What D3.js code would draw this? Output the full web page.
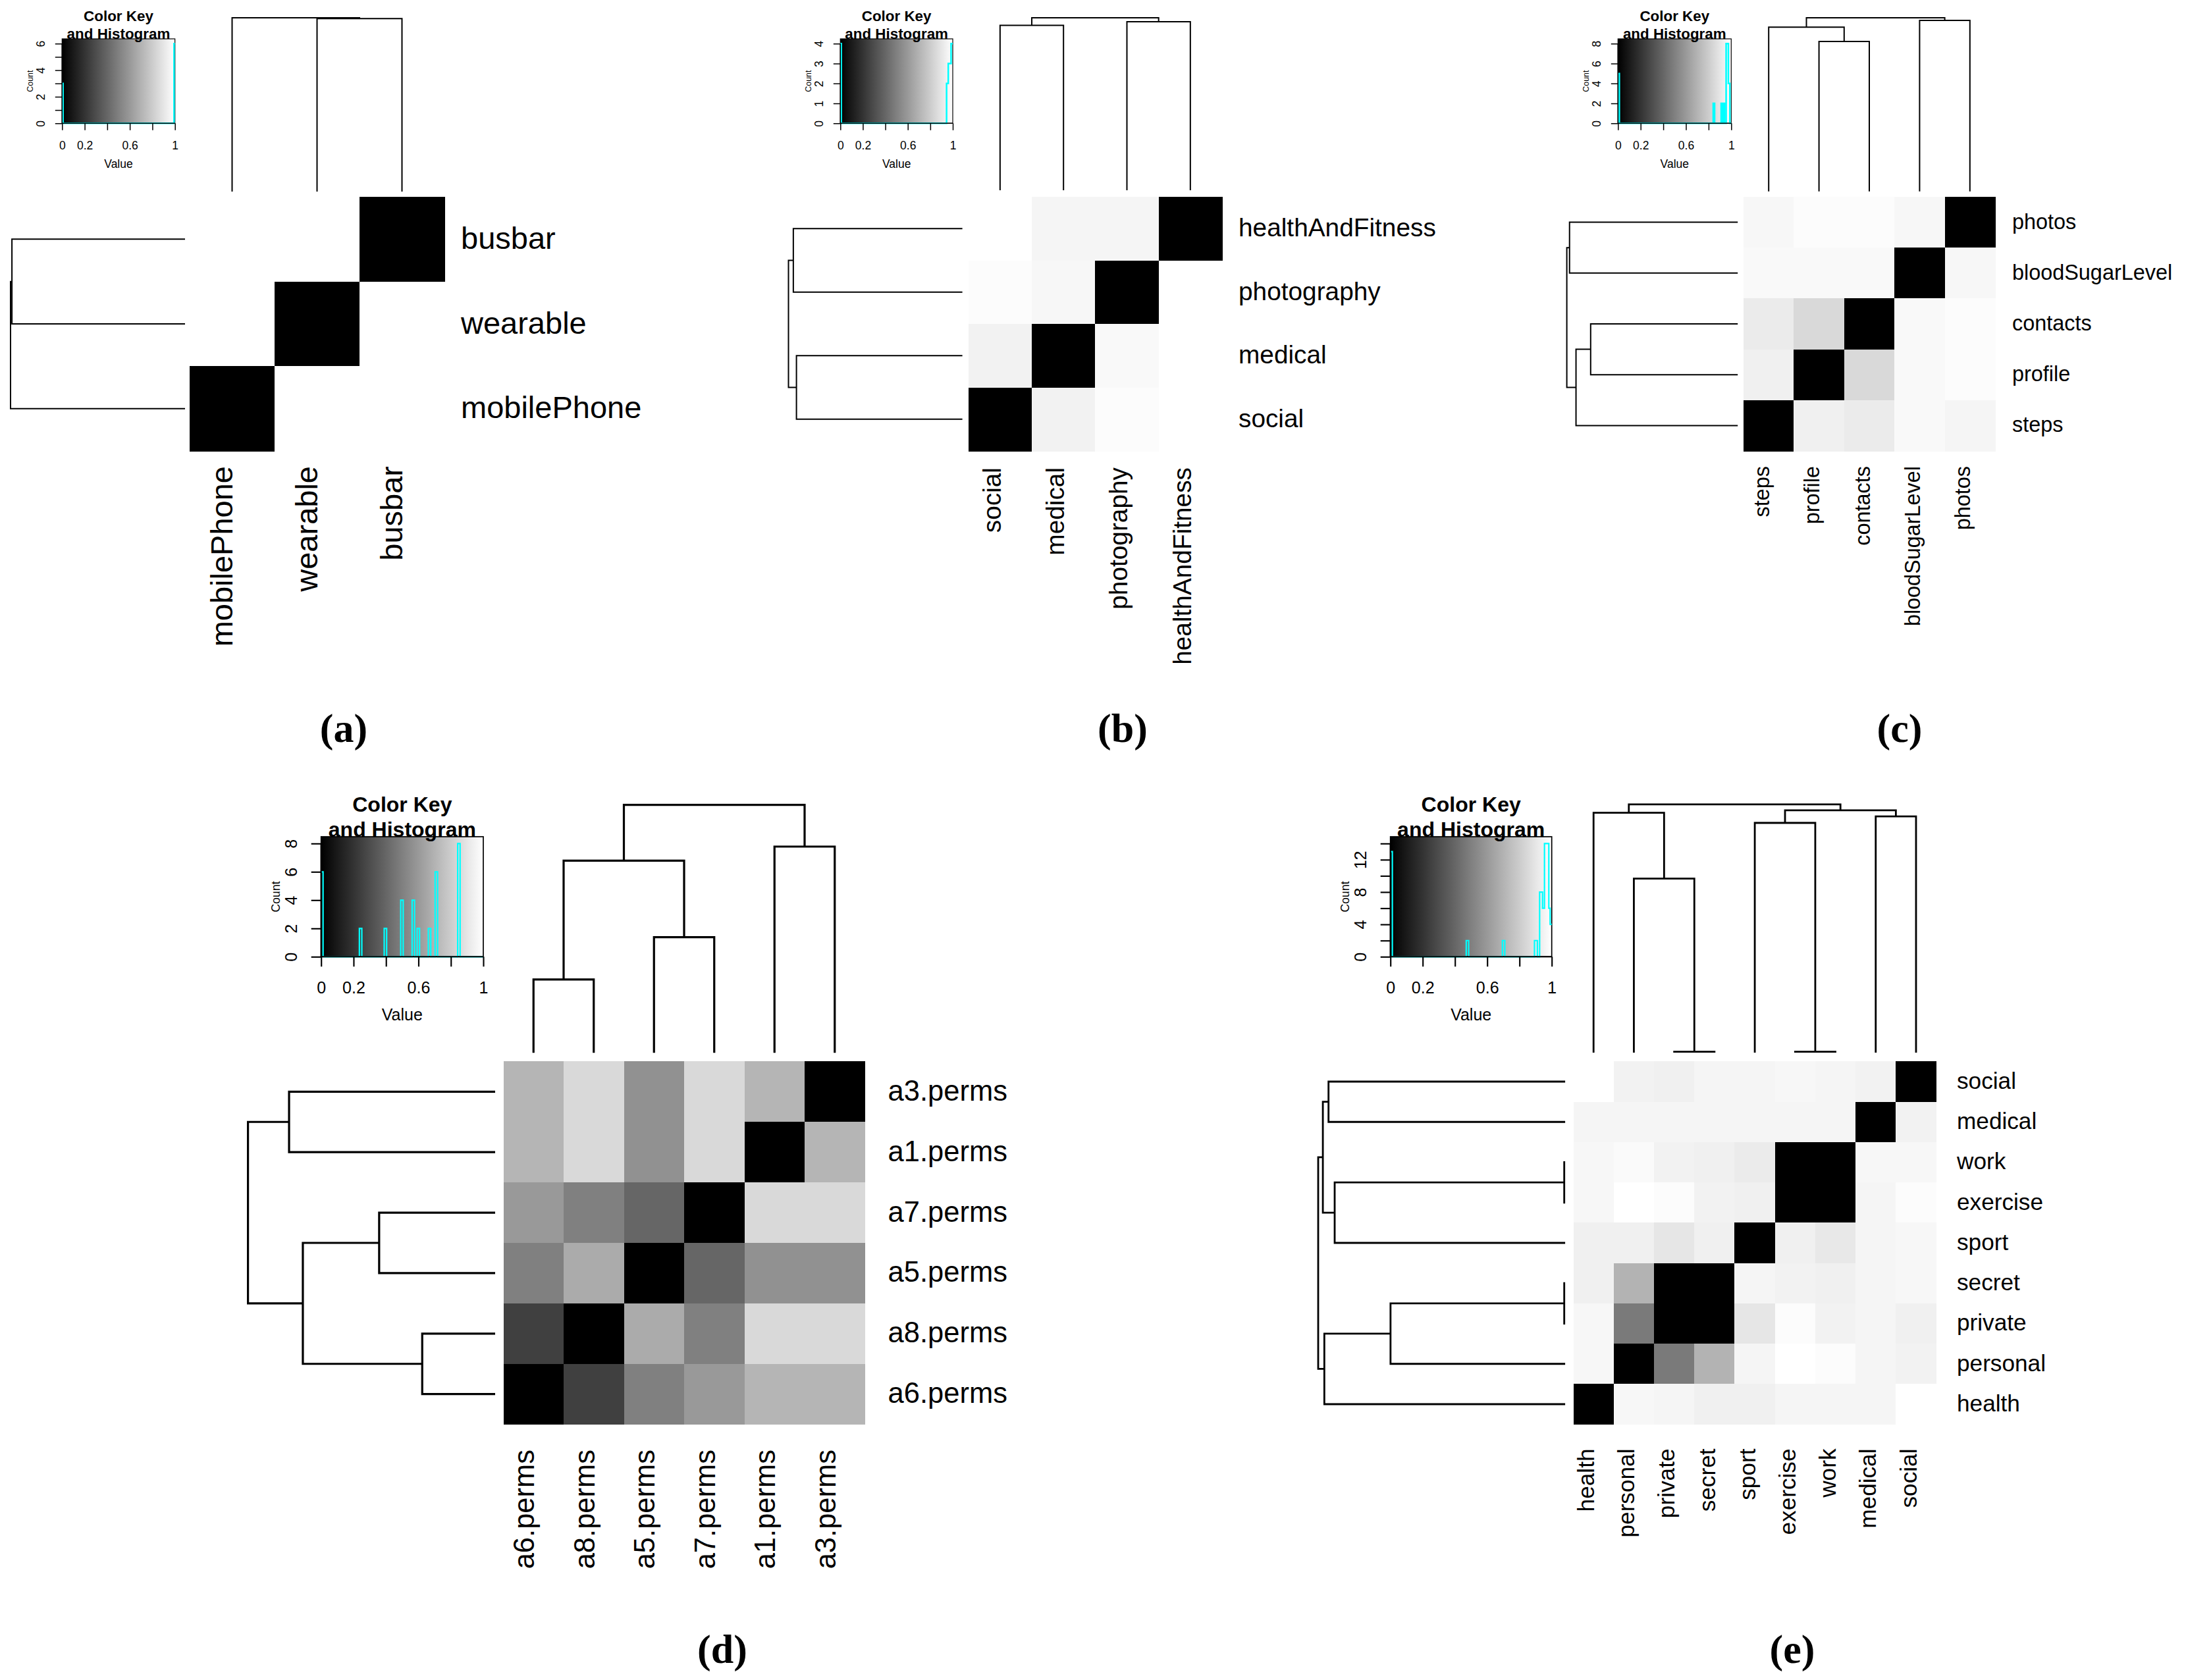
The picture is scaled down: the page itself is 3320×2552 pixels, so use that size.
<!DOCTYPE html>
<html><head><meta charset="utf-8">
<script src="https://cdn.jsdelivr.net/npm/d3@7"></script>
<style>html,body{margin:0;padding:0;background:#fff;} svg{display:block;font-family:"Liberation Sans",Arial,sans-serif;}</style>
</head><body>
<svg id="chart" width="3320" height="2552"></svg>
<script>
// ================= DATA =================
// (a)
const aCols = ["mobilePhone","wearable","busbar"];
const aRows = ["busbar","wearable","mobilePhone"];
const aValues = [[1,1,0],[1,0,1],[0,1,1]];
const aColTree = {h:1.0, c:["mobilePhone",{h:0.995, c:["wearable","busbar"]}]};
const aRowTree = {h:1.0, c:[{h:0.992, c:["busbar","wearable"]},"mobilePhone"]};
const aHist = [[0,0.008,3],[0.992,1,6]];
const aYTicks = [0,1,2,3,4,5,6];
const aYLabels = [0,2,4,6];

// (b)
const bCols = ["social","medical","photography","healthAndFitness"];
const bRows = ["healthAndFitness","photography","medical","social"];
const bValues = [
  [1.00,0.96,0.96,0],
  [0.99,0.97,0,1.00],
  [0.95,0,0.975,1.00],
  [0,0.95,0.99,1.00]];
const bColTree = {h:1, c:[{h:0.956, c:["social","medical"]},{h:0.977, c:["photography","healthAndFitness"]}]};
const bRowTree = {h:1, c:[{h:0.972, c:["healthAndFitness","photography"]},{h:0.954, c:["medical","social"]}]};
const bHist = [[0,0.008,4],[0.945,0.96,2],[0.96,0.985,3],[0.985,1,4]];
const bYTicks = [0,1,2,3,4];
const bYLabels = [0,1,2,3,4];

// (c)
const cCols = ["steps","profile","contacts","bloodSugarLevel","photos"];
const cRows = ["photos","bloodSugarLevel","contacts","profile","steps"];
const cValues = [
  [0.97,0.99,0.99,0.97,0],
  [0.975,0.975,0.975,0,0.97],
  [0.92,0.85,0,0.975,0.99],
  [0.94,0,0.85,0.975,0.99],
  [0,0.94,0.92,0.975,0.96]];
const cColTree = {h:1, c:[{h:0.946, c:["steps",{h:0.863, c:["profile","contacts"]}]},{h:0.985, c:["bloodSugarLevel","photos"]}]};
const cRowTree = {h:1, c:[{h:0.984, c:["photos","bloodSugarLevel"]},{h:0.946, c:[{h:0.860, c:["contacts","profile"]},"steps"]}]};
const cHist = [[0,0.012,5],[0.841,0.853,2],[0.911,0.922,2],[0.930,0.940,2],[0.955,0.975,8],[0.975,0.988,4]];
const cYTicks = [0,2,4,6,8];
const cYLabels = [0,2,4,6,8];

// (d)
const dCols = ["a6.perms","a8.perms","a5.perms","a7.perms","a1.perms","a3.perms"];
const dRows = ["a3.perms","a1.perms","a7.perms","a5.perms","a8.perms","a6.perms"];
const dValues = [
  [0.71,0.85,0.57,0.85,0.71,0],
  [0.71,0.85,0.57,0.85,0,0.71],
  [0.60,0.50,0.40,0,0.85,0.85],
  [0.50,0.67,0,0.40,0.57,0.57],
  [0.25,0,0.67,0.50,0.85,0.85],
  [0,0.25,0.50,0.60,0.71,0.71]];
const dColTree = {h:1, c:[{h:0.774, c:[{h:0.293, c:["a6.perms","a8.perms"]},{h:0.464, c:["a5.perms","a7.perms"]}]},{h:0.831, c:["a1.perms","a3.perms"]}]};
const dRowTree = {h:1, c:[{h:0.833, c:["a3.perms","a1.perms"]},{h:0.777, c:[{h:0.467, c:["a7.perms","a5.perms"]},{h:0.292, c:["a8.perms","a6.perms"]}]}]};
const dHist = [[0,0.012,6],[0.236,0.251,2],[0.389,0.404,2],[0.491,0.506,4],[0.561,0.576,4],[0.592,0.607,2],[0.661,0.676,2],[0.703,0.718,6],[0.842,0.857,8]];
const dYTicks = [0,2,4,6,8];
const dYLabels = [0,2,4,6,8];

// (e)
const eCols = ["health","personal","private","secret","sport","exercise","work","medical","social"];
const eRows = ["social","medical","work","exercise","sport","secret","private","personal","health"];
const eValues = [
  [1.00,0.95,0.94,0.96,0.96,0.97,0.96,0.95,0],
  [0.96,0.96,0.96,0.96,0.96,0.96,0.96,0,0.95],
  [0.97,0.98,0.95,0.94,0.92,0,0,0.97,0.97],
  [0.97,1.00,0.99,0.95,0.94,0,0,0.96,0.99],
  [0.94,0.94,0.90,0.94,0,0.94,0.91,0.96,0.97],
  [0.94,0.70,0,0,0.96,0.95,0.94,0.96,0.97],
  [0.97,0.48,0,0,0.90,0.99,0.95,0.96,0.94],
  [0.97,0,0.48,0.70,0.96,1.00,0.99,0.96,0.95],
  [0,0.97,0.96,0.94,0.94,0.96,0.96,0.96,1.00]];
const eColTree = {h:1, c:[{h:0.966, c:["health",{h:0.700, c:["personal",{h:0, c:["private","secret"]}]}]},
                          {h:0.976, c:[{h:0.925, c:["sport",{h:0, c:["exercise","work"]}]},{h:0.951, c:["medical","social"]}]}]};
const eRowTree = {h:1, c:[{h:0.981, c:[{h:0.958, c:["social","medical"]},{h:0.933, c:[{h:0, c:["work","exercise"]},"sport"]}]},
                          {h:0.975, c:[{h:0.706, c:[{h:0, c:["secret","private"]},"personal"]},"health"]}]};
const eHist = [[0,0.012,13],[0.47,0.485,2],[0.694,0.709,2],[0.893,0.911,2],[0.925,0.943,8],[0.943,0.955,6],[0.955,0.982,14],[0.982,0.99,6],[0.99,1.0,4]];
const eYTicks = [0,2,4,6,8,10,12,14];
const eYLabels = [0,4,8,12];

const keyXTicks = [0,0.2,0.4,0.6,0.8,1];
const keyXLabels = [0,0.2,0.6,1];

// ================= LAYOUT =================
const panels = [
 {name:"(a)", cols:aCols, rows:aRows, values:aValues, colTree:aColTree, rowTree:aRowTree, hist:aHist, yTicks:aYTicks, yLabels:aYLabels,
  L:{s:1, lw:2, hlw:2.5, hx:[288,675], hy:[299,685], cd:[290,27], rd:[280,16], rowLabelX:700, colLabelY:708, font:47, key:[94.3,265.7,59,187.3], cap:[522,1127]}},
 {name:"(b)", cols:bCols, rows:bRows, values:bValues, colTree:bColTree, rowTree:bRowTree, hist:bHist, yTicks:bYTicks, yLabels:bYLabels,
  L:{s:1, lw:2, hlw:2.5, hx:[1470.7,1856], hy:[299,685], cd:[288,27], rd:[1460.6,1197.5], rowLabelX:1881, colLabelY:710, font:38.8, key:[1276.3,1447,59,187.3], cap:[1705,1127]}},
 {name:"(c)", cols:cCols, rows:cRows, values:cValues, colTree:cColTree, rowTree:cRowTree, hist:cHist, yTicks:cYTicks, yLabels:cYLabels,
  L:{s:1, lw:2, hlw:2.5, hx:[2648,3030], hy:[299,685], cd:[289.7,27], rd:[2638.2,2379.6], rowLabelX:3056, colLabelY:708, font:32.4, key:[2457.3,2629.3,59,187.3], cap:[2885,1127]}},
 {name:"(d)", cols:dCols, rows:dRows, values:dValues, colTree:dColTree, rowTree:dRowTree, hist:dHist, yTicks:dYTicks, yLabels:dYLabels,
  L:{s:1.43, lw:3.2, hlw:2.2, hx:[764.5,1313.5], hy:[1612.4,2163.6], cd:[1597.7,1222.6], rd:[750.4,376.6], rowLabelX:1348.6, colLabelY:2202, font:43.5, key:[487.7,734,1271,1453.3], cap:[1097,2526]}},
 {name:"(e)", cols:eCols, rows:eRows, values:eValues, colTree:eColTree, rowTree:eRowTree, hist:eHist, yTicks:eYTicks, yLabels:eYLabels,
  L:{s:1.43, lw:2.8, hlw:2.2, hx:[2389.6,2940.6], hy:[1612.4,2163.6], cd:[1597.7,1221.8], rd:[2375.7,2002], rowLabelX:2972, colLabelY:2200.5, font:35.2, key:[2111.7,2356.7,1271,1453.3], cap:[2722,2526]}}
];

// ================= DRAW =================
const svg = d3.select("#chart");
svg.append("rect").attr("width",3320).attr("height",2552).attr("fill","#fff");
const gray = d3.scaleLinear().domain([0,1]).range(["#000000","#ffffff"]);
const defs = svg.append("defs");
const grad = defs.append("linearGradient").attr("id","keygrad");
d3.range(0,1.0001,0.1).forEach(t=>grad.append("stop").attr("offset",(t*100)+"%").attr("stop-color",gray(t)));

function dendro(g, tree, leafPos, hPos, orient, lw){
  const path = d3.path();
  function rec(node){
    if (typeof node === "string") return {p:leafPos(node), h:0};
    const a = rec(node.c[0]), b = rec(node.c[1]);
    if (orient === "top"){
      path.moveTo(a.p, hPos(a.h)); path.lineTo(a.p, hPos(node.h)); path.lineTo(b.p, hPos(node.h)); path.lineTo(b.p, hPos(b.h));
    } else {
      path.moveTo(hPos(a.h), a.p); path.lineTo(hPos(node.h), a.p); path.lineTo(hPos(node.h), b.p); path.lineTo(hPos(b.h), b.p);
    }
    return {p:(a.p+b.p)/2, h:node.h};
  }
  rec(tree);
  g.append("path").attr("d", path.toString()).attr("fill","none").attr("stroke","#000")
   .attr("stroke-width", lw).attr("stroke-linejoin","miter").attr("stroke-linecap","square");
}

function drawPanel(p){
  const L = p.L, s = L.s;
  const g = svg.append("g");
  const x = d3.scaleBand().domain(p.cols).range(L.hx);
  const y = d3.scaleBand().domain(p.rows).range(L.hy);
  const cells = [];
  p.rows.forEach((r,i)=>p.cols.forEach((c,j)=>cells.push({r, c, v:p.values[i][j]})));
  g.append("g").attr("shape-rendering","crispEdges").selectAll("rect").data(cells).join("rect")
    .attr("x", d=>x(d.c)).attr("y", d=>y(d.r))
    .attr("width", x.bandwidth()+0.6).attr("height", y.bandwidth()+0.6)
    .attr("fill", d=>gray(d.v));

  // dendrograms
  const colH = d3.scaleLinear().domain([0,1]).range(L.cd);
  const rowH = d3.scaleLinear().domain([0,1]).range(L.rd);
  dendro(g, p.colTree, c=>x(c)+x.bandwidth()/2, colH, "top", L.lw);
  dendro(g, p.rowTree, r=>y(r)+y.bandwidth()/2, rowH, "left", L.lw);

  // labels
  g.append("g").selectAll("text").data(p.rows).join("text")
    .attr("x", L.rowLabelX).attr("y", d=>y(d)+y.bandwidth()/2).attr("dy","0.31em")
    .attr("font-size", L.font).attr("fill","#000").text(d=>d);
  g.append("g").selectAll("text").data(p.cols).join("text")
    .attr("transform", d=>`translate(${x(d)+x.bandwidth()/2},${L.colLabelY}) rotate(-90)`)
    .attr("text-anchor","end").attr("dy","0.02em")
    .attr("font-size", L.font).attr("fill","#000").text(d=>d);

  // colour key + histogram
  const [kx0,kx1,ky0,ky1] = L.key;
  const kg = g.append("g");
  kg.append("rect").attr("x",kx0).attr("y",ky0).attr("width",kx1-kx0).attr("height",ky1-ky0)
    .attr("fill","url(#keygrad)").attr("stroke","#000").attr("stroke-width",1.2*s);
  const hx = d3.scaleLinear().domain([0,1]).range([kx0,kx1]);
  const hMax = d3.max(p.yTicks);
  const hy = d3.scaleLinear().domain([0, hMax*1.06]).range([ky1, ky0]);
  const pts = []; let cur = 0;
  p.hist.forEach(([lo,hi,n])=>{
    if (lo > cur){ pts.push([cur,0],[lo,0]); }
    pts.push([lo,n],[hi,n]); cur = hi;
  });
  if (cur < 1) pts.push([cur,0],[1,0]);
  kg.append("path").attr("d", d3.line().x(d=>hx(d[0])).y(d=>hy(d[1]))(pts))
    .attr("fill","none").attr("stroke","#00ffff").attr("stroke-width",L.hlw).attr("stroke-linejoin","miter");

  const fs = 17.5*s, tl = 10.5*s, tw = 1.5*s;
  // y axis
  const ya = kg.append("g").attr("transform",`translate(${kx0},0)`)
    .call(d3.axisLeft(hy).tickValues(p.yTicks).tickSize(tl).tickSizeOuter(0)
      .tickFormat(d=>p.yLabels.includes(d)? String(d) : ""));
  ya.select(".domain").remove();
  ya.selectAll(".tick line").attr("stroke","#000").attr("stroke-width",tw);
  ya.selectAll(".tick text").attr("x",null).attr("dy",null)
    .attr("transform",`translate(${-26*s},0) rotate(-90)`).attr("text-anchor","middle")
    .attr("font-size",fs).attr("font-family",'"Liberation Sans",Arial,sans-serif').attr("fill","#000");
  kg.append("line").attr("x1",kx0).attr("x2",kx0).attr("y1",hy(0)).attr("y2",hy(hMax)).attr("stroke","#000").attr("stroke-width",tw);
  kg.append("text").attr("transform",`translate(${kx0-44*s},${(ky0+ky1)/2}) rotate(-90)`)
    .attr("text-anchor","middle").attr("font-size",12.4*s).text("Count");
  // x axis
  const xa = kg.append("g").attr("transform",`translate(0,${ky1})`)
    .call(d3.axisBottom(hx).tickValues(keyXTicks).tickSize(tl).tickSizeOuter(0)
      .tickFormat(d=>keyXLabels.includes(d)? String(d) : ""));
  xa.select(".domain").remove();
  xa.selectAll(".tick line").attr("stroke","#000").attr("stroke-width",tw);
  xa.selectAll(".tick text").attr("y",39.3*s).attr("dy",null)
    .attr("font-size",fs).attr("font-family",'"Liberation Sans",Arial,sans-serif').attr("fill","#000");
  kg.append("line").attr("x1",kx0).attr("x2",kx1).attr("y1",ky1).attr("y2",ky1).attr("stroke","#000").attr("stroke-width",tw);
  kg.append("text").attr("x",(kx0+kx1)/2).attr("y",ky1+67.6*s).attr("text-anchor","middle").attr("font-size",fs).text("Value");
  // title
  kg.append("text").attr("x",(kx0+kx1)/2).attr("y",ky0-26.8*s).attr("text-anchor","middle")
    .attr("font-size",22.4*s).attr("font-weight","bold").text("Color Key");
  kg.append("text").attr("x",(kx0+kx1)/2).attr("y",ky0).attr("text-anchor","middle")
    .attr("font-size",22.4*s).attr("font-weight","bold").text("and Histogram");

  // caption
  g.append("text").attr("x",L.cap[0]).attr("y",L.cap[1]).attr("text-anchor","middle")
    .attr("font-family",'"Liberation Serif","DejaVu Serif",serif').attr("font-weight","bold")
    .attr("font-size",62).text(p.name);
}
panels.forEach(drawPanel);
</script>
</body></html>
